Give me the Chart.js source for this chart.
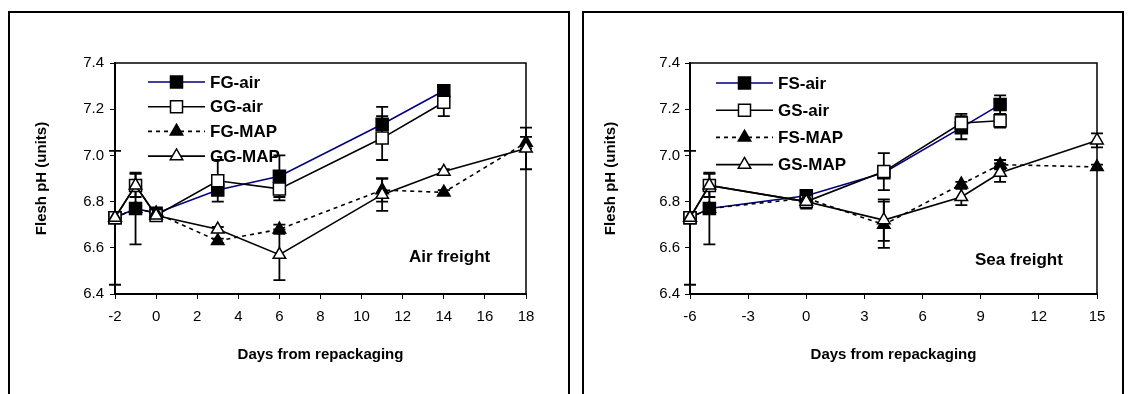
<!DOCTYPE html>
<html><head><meta charset="utf-8">
<script src="https://cdn.jsdelivr.net/npm/chart.js@4/dist/chart.umd.min.js"></script>
<style>
html,body{margin:0;padding:0;background:#fff;width:1128px;height:394px;overflow:hidden;position:relative;}
.panel{position:absolute;top:11px;height:420px;border:2px solid #000;box-sizing:border-box;}
#p1{left:8px;width:562px;}
#p2{left:582px;width:542px;}
canvas{position:absolute;top:0;}
#c1{left:0;}
#c2{left:564px;}
</style></head>
<body>
<div class="panel" id="p1"></div>
<div class="panel" id="p2"></div>
<canvas id="c1" width="564" height="394" style="width:564px;height:394px"></canvas>
<canvas id="c2" width="564" height="394" style="width:564px;height:394px"></canvas>
<script>
// ---------- Air freight ----------
const airDays   = [-2, -1, 0, 3, 6, 11, 14, 18];
const fgAir     = [6.73, 6.77, 6.75, 6.85, 6.91, 7.135, 7.28, null];
const fgAirErr  = [0.29, 0.155, 0.01, 0.02, 0.09, 0.075, 0.02, null];
const ggAir     = [6.73, 6.87, 6.74, 6.89, 6.855, 7.075, 7.23, null];
const ggAirErr  = [0, 0.05, 0.02, 0.09, 0.05, 0.095, 0.06, null];
const fgMap     = [6.73, 6.77, 6.75, 6.63, 6.68, 6.85, 6.84, 7.055];
const fgMapErr  = [0, 0, 0, 0.01, 0.02, 0.05, 0.01, 0.025];
const ggMap     = [6.73, 6.87, 6.74, 6.68, 6.57, 6.83, 6.93, 7.03];
const ggMapErr  = [0, 0, 0, 0.01, 0.11, 0.07, 0.01, 0.09];
const airXTicks = {min: -2, max: 18, step: 2};

// ---------- Sea freight ----------
const seaDays   = [-6, -5, 0, 4, 8, 10, 15];
const fsAir     = [6.73, 6.77, 6.825, 6.925, 7.12, 7.22, null];
const fsAirErr  = [0.29, 0.155, 0.01, 0.02, 0.05, 0.04, null];
const gsAir     = [6.73, 6.87, 6.80, 6.93, 7.14, 7.15, null];
const gsAirErr  = [0, 0.05, 0.03, 0.08, 0.04, 0.03, null];
const fsMap     = [6.73, 6.77, 6.815, 6.70, 6.875, 6.96, 6.95];
const fsMapErr  = [0, 0, 0, 0.10, 0.01, 0.02, 0.01];
const gsMap     = [6.73, 6.87, 6.80, 6.72, 6.82, 6.925, 7.065];
const gsMapErr  = [0, 0, 0, 0.09, 0.035, 0.04, 0.03];
const seaXTicks = {min: -6, max: 15, step: 3};

const yTicks = {min: 6.4, max: 7.4, step: 0.2};
const FONT = "'Liberation Sans', Arial, sans-serif";

function pts(xs, ys) { return xs.map((x, i) => ({x: x, y: ys[i]})); }

function series(label, xs, ys, err, kind, i) {
  const filled = kind.fill;
  return {
    label: label,
    data: pts(xs, ys),
    err: err,
    order: 4 - i,
    borderColor: kind.color,
    borderWidth: 1.6,
    borderDash: kind.dash || [],
    pointStyle: kind.style,
    pointRadius: kind.style === 'rect' ? 8.5 : 7.2,
    pointHoverRadius: kind.style === 'rect' ? 8.5 : 7.2,
    pointBackgroundColor: filled ? '#000' : '#fff',
    pointBorderColor: '#000',
    pointBorderWidth: 1.5,
    tension: 0,
    spanGaps: false,
    clip: false,
    fill: false
  };
}

const errorBars = {
  id: 'errorBars',
  beforeDatasetsDraw(chart) {
    const ctx = chart.ctx, xs = chart.scales.x, ys = chart.scales.y, a = chart.chartArea;
    ctx.save();
    // plot frame (top / right)
    ctx.strokeStyle = '#000'; ctx.lineWidth = 1.5;
    ctx.beginPath();
    ctx.moveTo(a.left, a.top); ctx.lineTo(a.right, a.top); ctx.lineTo(a.right, a.bottom);
    ctx.stroke();
    ctx.lineWidth = 1.8; ctx.setLineDash([]);
    const cap = 6;
    chart.data.datasets.forEach(ds => {
      if (!ds.err) return;
      ds.data.forEach((p, i) => {
        const e = ds.err[i];
        if (p.y == null || !e) return;
        const px = xs.getPixelForValue(p.x);
        const y1 = ys.getPixelForValue(p.y - e), y2 = ys.getPixelForValue(p.y + e);
        ctx.beginPath();
        ctx.moveTo(px, y1); ctx.lineTo(px, y2);
        ctx.moveTo(px - cap, y1); ctx.lineTo(px + cap, y1);
        ctx.moveTo(px - cap, y2); ctx.lineTo(px + cap, y2);
        ctx.stroke();
      });
    });
    ctx.restore();
  }
};

const inLegend = {
  id: 'inLegend',
  afterDatasetsDraw(chart, args, o) {
    const ctx = chart.ctx, a = chart.chartArea;
    chart.data.datasets.forEach((ds, i) => {
      const y = a.top + o.top + i * o.row;
      const x0 = a.left + o.left, x1 = x0 + o.len;
      ctx.save();
      ctx.strokeStyle = ds.borderColor; ctx.lineWidth = ds.borderWidth;
      ctx.setLineDash(ds.borderDash || []);
      ctx.beginPath(); ctx.moveTo(x0, y); ctx.lineTo(x1, y); ctx.stroke();
      ctx.setLineDash([]);
      ctx.fillStyle = ds.pointBackgroundColor; ctx.strokeStyle = ds.pointBorderColor;
      ctx.lineWidth = ds.pointBorderWidth;
      Chart.helpers.drawPoint(ctx, {pointStyle: ds.pointStyle, radius: ds.pointRadius, rotation: 0, borderWidth: ds.pointBorderWidth}, (x0 + x1) / 2, y);
      ctx.fillStyle = '#000'; ctx.font = 'bold 17px ' + FONT;
      ctx.textBaseline = 'middle'; ctx.textAlign = 'left';
      ctx.fillText(ds.label, x1 + 5, y + 1);
      ctx.restore();
    });
    ctx.save();
    ctx.fillStyle = '#000'; ctx.font = 'bold 17px ' + FONT;
    ctx.textBaseline = 'middle'; ctx.textAlign = 'left';
    ctx.fillText(o.note, a.left + o.noteX, a.top + o.noteY);
    ctx.restore();
  }
};

function makeChart(id, xs, sets, xt, lay) {
  return new Chart(document.getElementById(id), {
    type: 'line',
    data: {datasets: sets},
    options: {
      responsive: false, animation: false, devicePixelRatio: 1,
      events: [],
      layout: {padding: {left: lay.padL, top: 63, right: lay.padR, bottom: 30}},
      plugins: {legend: {display: false}, tooltip: {enabled: false}, inLegend: lay.legend},
      scales: {
        x: {
          type: 'linear', min: xt.min, max: xt.max,
          afterFit(s) { s.height = 70; },
          ticks: {stepSize: xt.step, color: '#000', padding: 9, font: {family: FONT, size: 15}, maxRotation: 0,
                  callback: v => String(v)},
          grid: {display: true, drawOnChartArea: false, drawTicks: true, tickLength: 5, color: '#000', lineWidth: 1},
          border: {display: true, color: '#000', width: 2},
          title: {display: true, text: 'Days from repackaging', color: '#000', padding: 0,
                  font: {family: FONT, size: 15, weight: 'bold'}}
        },
        y: {
          min: yTicks.min, max: yTicks.max,
          afterFit(s) { s.width = lay.yW; },
          ticks: {stepSize: yTicks.step, color: '#000', padding: lay.yPad, font: {family: FONT, size: 15},
                  callback: v => Number(v).toFixed(1)},
          grid: {display: true, drawOnChartArea: false, drawTicks: true, tickLength: 5, color: '#000', lineWidth: 1},
          border: {display: true, color: '#000', width: 2},
          title: {display: true, text: 'Flesh pH (units)', color: '#000', padding: 0,
                  font: {family: FONT, size: 15, weight: 'bold'}}
        }
      }
    },
    plugins: [errorBars, inLegend]
  });
}

const K = {
  fAir: {style: 'rect', fill: true, color: '#000080'},
  gAir: {style: 'rect', fill: false, color: '#000'},
  fMap: {style: 'triangle', fill: true, color: '#000', dash: [4, 4]},
  gMap: {style: 'triangle', fill: false, color: '#000'}
};

makeChart('c1', airDays, [
  series('FG-air', airDays, fgAir, fgAirErr, K.fAir, 0),
  series('GG-air', airDays, ggAir, ggAirErr, K.gAir, 1),
  series('FG-MAP', airDays, fgMap, fgMapErr, K.fMap, 2),
  series('GG-MAP', airDays, ggMap, ggMapErr, K.gMap, 3)
], airXTicks, {padL: 33, padR: 38, yW: 82, yPad: 6,
  legend: {left: 33, top: 19, row: 24.7, len: 57, note: 'Air freight', noteX: 294, noteY: 194}});

makeChart('c2', seaDays, [
  series('FS-air', seaDays, fsAir, fsAirErr, K.fAir, 0),
  series('GS-air', seaDays, gsAir, gsAirErr, K.gAir, 1),
  series('FS-MAP', seaDays, fsMap, fsMapErr, K.fMap, 2),
  series('GS-MAP', seaDays, gsMap, gsMapErr, K.gMap, 3)
], seaXTicks, {padL: 38, padR: 31, yW: 88, yPad: 5,
  legend: {left: 26, top: 20, row: 27.2, len: 57, note: 'Sea freight', noteX: 285, noteY: 197}});
</script>
</body></html>
